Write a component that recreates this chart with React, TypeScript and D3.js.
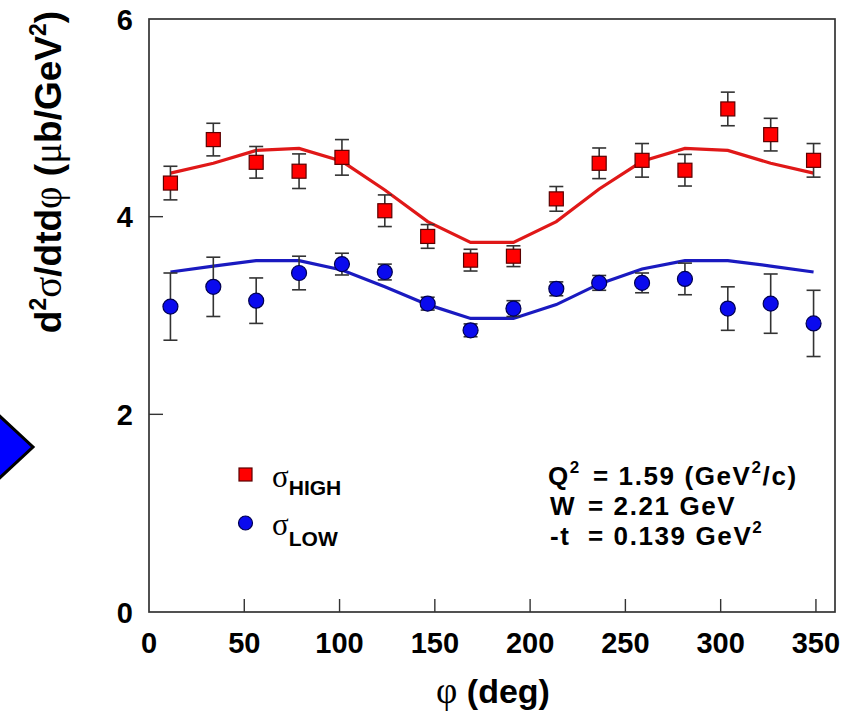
import React from "react";
import * as d3 from "d3";

// phi bin centres (deg)
const phiDeg = [11.25, 33.75, 56.25, 78.75, 101.25, 123.75, 146.25, 168.75, 191.25, 213.75, 236.25, 258.75, 281.25, 303.75, 326.25, 348.75];

// sigma_HIGH data points and errors
const highVals = [4.34, 4.78, 4.55, 4.46, 4.60, 4.06, 3.80, 3.56, 3.60, 4.18, 4.54, 4.57, 4.47, 5.09, 4.83, 4.57];
const highErrs = [0.17, 0.165, 0.16, 0.175, 0.18, 0.16, 0.12, 0.11, 0.105, 0.125, 0.155, 0.17, 0.16, 0.17, 0.165, 0.17];
// sigma_LOW data points and errors
const lowVals = [3.09, 3.29, 3.15, 3.43, 3.52, 3.44, 3.12, 2.85, 3.07, 3.27, 3.33, 3.33, 3.37, 3.07, 3.12, 2.92];
const lowErrs = [0.34, 0.30, 0.23, 0.17, 0.11, 0.08, 0.065, 0.065, 0.08, 0.07, 0.075, 0.10, 0.16, 0.22, 0.30, 0.335];

// model curves
const highCurve = [4.44, 4.54, 4.67, 4.69, 4.56, 4.27, 3.95, 3.74, 3.74, 3.95, 4.28, 4.56, 4.69, 4.67, 4.54, 4.44];
const lowCurve = [3.44, 3.50, 3.555, 3.555, 3.46, 3.29, 3.11, 2.97, 2.97, 3.11, 3.32, 3.47, 3.555, 3.555, 3.50, 3.44];

const xTicks = [0, 50, 100, 150, 200, 250, 300, 350];
const yTicks = [0, 2, 4, 6];

const SANS = "'Liberation Sans', Arial, Helvetica, sans-serif";
const SERIF = "'Liberation Serif', 'Times New Roman', serif";

export default function App() {
  const x = d3.scaleLinear().domain([0, 360]).range([149, 835]);
  const y = d3.scaleLinear().domain([0, 6]).range([612, 19]);

  const line = d3
    .line<number>()
    .x((_, i) => x(phiDeg[i]))
    .y((d) => y(d));

  const cap = 7;

  const errBars = (vals: number[], errs: number[], key: string) =>
    vals.map((v, i) => {
      const cx = x(phiDeg[i]);
      const y1 = y(v + errs[i]);
      const y2 = y(v - errs[i]);
      return (
        <g key={key + i} stroke="#333" strokeWidth={1.6}>
          <line x1={cx} x2={cx} y1={y1} y2={y2} />
          <line x1={cx - cap} x2={cx + cap} y1={y1} y2={y1} />
          <line x1={cx - cap} x2={cx + cap} y1={y2} y2={y2} />
        </g>
      );
    });

  const sq = 14;

  return (
    <svg
      width={856}
      height={727}
      style={{ position: "absolute", left: 0, top: 0, background: "#fff" }}
      fontFamily={SANS}
    >
      <rect x={0} y={0} width={856} height={727} fill="#fff" />

      {/* blue arrow on the left edge */}
      <polygon points="-8,409 33,447 -8,485" fill="#0000ff" stroke="#000" strokeWidth={3} />

      {/* frame */}
      <rect x={149} y={19} width={686} height={593} fill="none" stroke="#333" strokeWidth={1.7} />

      {/* x ticks */}
      {xTicks.map((t) => (
        <g key={"xt" + t}>
          {t > 0 && <line x1={x(t)} x2={x(t)} y1={612} y2={599} stroke="#333" strokeWidth={1.4} />}
          <text x={x(t)} y={653} textAnchor="middle" fontSize={29} fontWeight="bold" fill="#000">
            {t}
          </text>
        </g>
      ))}

      {/* y ticks */}
      {yTicks.map((t) => (
        <g key={"yt" + t}>
          {t > 0 && t < 6 && <line x1={149} x2={163} y1={y(t)} y2={y(t)} stroke="#333" strokeWidth={1.4} />}
          <text x={133} y={y(t) + 10.5} textAnchor="end" fontSize={29} fontWeight="bold" fill="#000">
            {t}
          </text>
        </g>
      ))}

      {/* model curves */}
      <path d={line(highCurve) || ""} fill="none" stroke="#e01818" strokeWidth={3.2} />
      <path d={line(lowCurve) || ""} fill="none" stroke="#1a1ac0" strokeWidth={3.2} />

      {/* error bars */}
      {errBars(highVals, highErrs, "he")}
      {errBars(lowVals, lowErrs, "le")}

      {/* markers */}
      {highVals.map((v, i) => (
        <rect
          key={"hm" + i}
          x={x(phiDeg[i]) - sq / 2}
          y={y(v) - sq / 2}
          width={sq}
          height={sq}
          fill="#ff0000"
          stroke="#5a0000"
          strokeWidth={1.2}
        />
      ))}
      {lowVals.map((v, i) => (
        <circle key={"lm" + i} cx={x(phiDeg[i])} cy={y(v)} r={7.5} fill="#0a0aee" stroke="#000050" strokeWidth={1.2} />
      ))}

      {/* legend */}
      <rect x={239} y={468} width={13} height={13} fill="#ff0000" stroke="#5a0000" strokeWidth={1.2} />
      <text x={272} y={487} fill="#000">
        <tspan fontFamily={SERIF} fontSize={31}>σ</tspan>
        <tspan fontSize={21} fontWeight="bold" dy={8}>HIGH</tspan>
      </text>
      <circle cx={245.5} cy={523} r={7} fill="#0a0aee" stroke="#000050" strokeWidth={1.2} />
      <text x={272} y={535} fill="#000">
        <tspan fontFamily={SERIF} fontSize={31}>σ</tspan>
        <tspan fontSize={21} fontWeight="bold" dy={11}>LOW</tspan>
      </text>

      {/* annotation */}
      <g fontSize={26} fontWeight="bold" fill="#000" letterSpacing={1.6}>
        <text x={548} y={485}>
          Q<tspan fontSize={17} dy={-12}>2</tspan>
        </text>
        <text x={593} y={485}>
          = 1.59 (GeV<tspan fontSize={17} dy={-12}>2</tspan>
          <tspan dy={12}>/c)</tspan>
        </text>
        <text x={550} y={515}>W</text>
        <text x={588} y={515}>= 2.21 GeV</text>
        <text x={550} y={545}>-t</text>
        <text x={588} y={545}>
          = 0.139 GeV<tspan fontSize={17} dy={-12}>2</tspan>
        </text>
      </g>

      {/* y axis title */}
      <text transform="translate(61,172) rotate(-90)" textAnchor="middle" fontSize={37} fontWeight="bold" fill="#000">
        d<tspan fontSize={23} dy={-15}>2</tspan>
        <tspan dy={15} fontFamily={SERIF} fontWeight="normal" fontSize={39}>σ</tspan>
        <tspan>/dtd</tspan>
        <tspan fontFamily={SERIF} fontWeight="normal" fontSize={39}>φ</tspan>
        <tspan> (</tspan>
        <tspan fontFamily={SERIF} fontWeight="normal" fontSize={39}>μ</tspan>
        <tspan>b/GeV</tspan>
        <tspan fontSize={23} dy={-15}>2</tspan>
        <tspan dy={15}>)</tspan>
      </text>

      {/* x axis title */}
      <text x={493} y={703} textAnchor="middle" fontSize={34} fontWeight="bold" fill="#000">
        <tspan fontFamily={SERIF} fontWeight="normal" fontSize={37}>φ</tspan>
        <tspan> (deg)</tspan>
      </text>
    </svg>
  );
}
